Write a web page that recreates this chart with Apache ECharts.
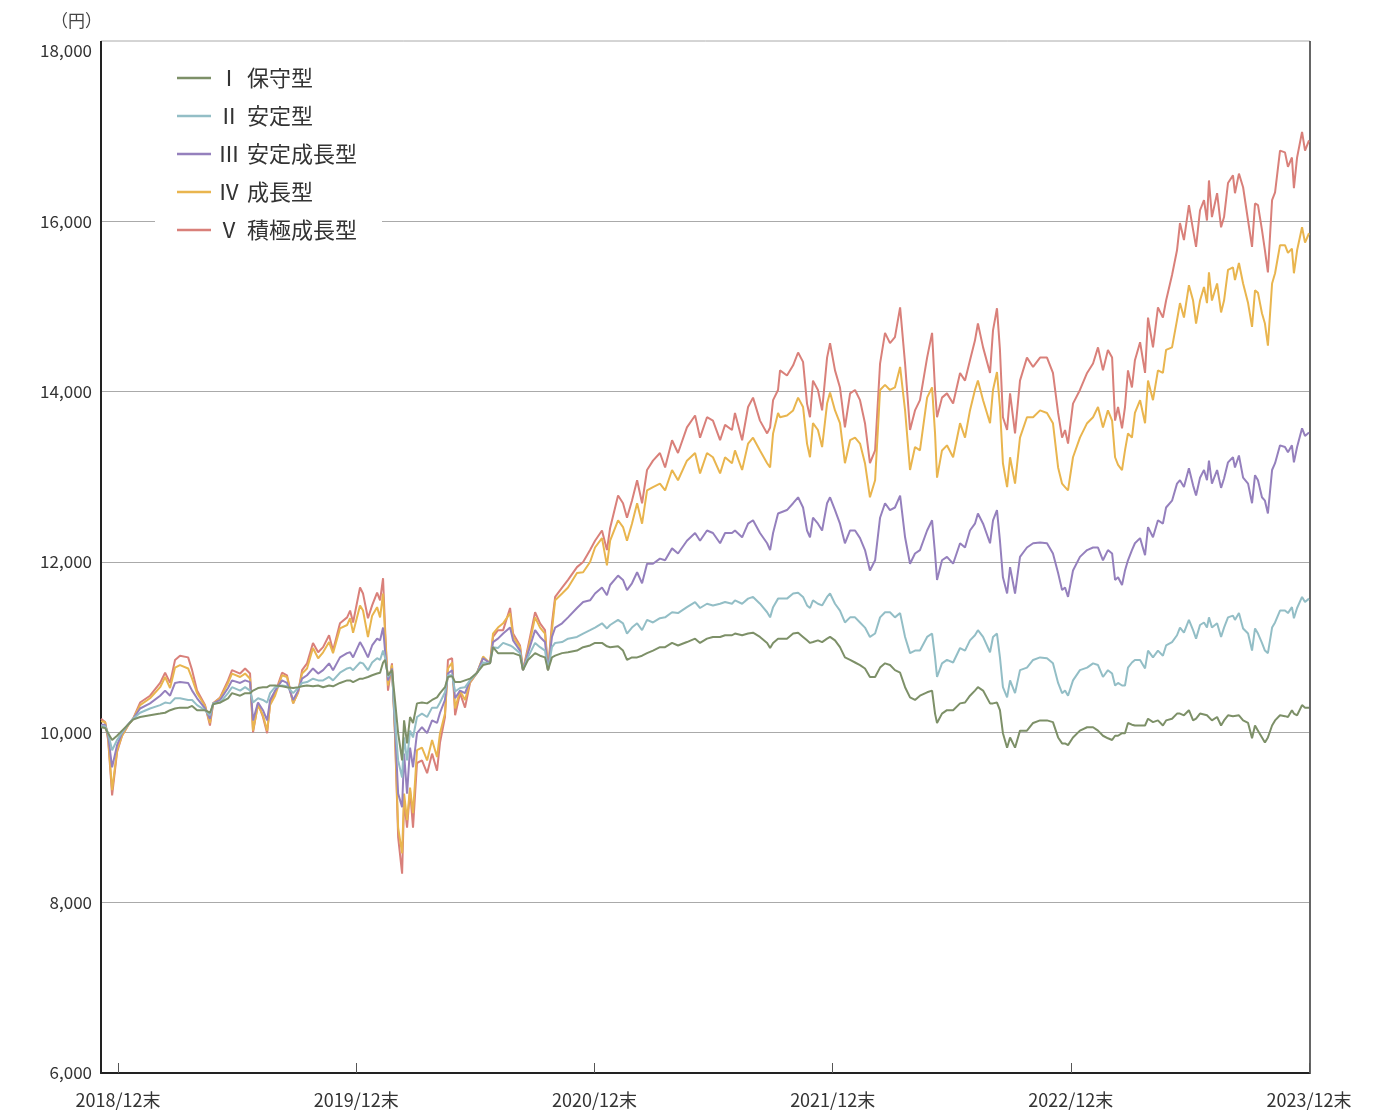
<!DOCTYPE html>
<html>
<head>
<meta charset="utf-8">
<script src="https://cdn.jsdelivr.net/npm/echarts@6/dist/echarts.min.js"></script>
<style>
  html, body { margin: 0; padding: 0; background: #fff; }
  #chart { width: 1389px; height: 1113px; }
</style>
</head>
<body>
<div id="chart"></div>
<script>
// x: months after 2018/12末
var months = [
  -0.86,-0.65,-0.50,-0.30,-0.05,0.20,0.50,0.76,1.11,1.61,
  2.12,2.37,2.62,2.87,3.12,3.53,3.73,3.98,4.38,4.63,
  4.79,5.14,5.54,5.74,6.15,6.40,6.65,6.80,7.05,7.30,
  7.51,7.66,7.91,8.26,8.51,8.82,9.07,9.27,9.52,9.82,
  10.08,10.33,10.63,10.83,11.18,11.54,11.69,11.84,12.19,12.34,
  12.59,12.80,13.05,13.20,13.35,13.45,13.60,13.80,13.95,14.11,
  14.31,14.41,14.56,14.71,14.86,15.06,15.31,15.57,15.82,16.07,
  16.22,16.47,16.62,16.83,16.98,17.23,17.48,17.73,18.09,18.39,
  18.74,18.89,19.14,19.40,19.75,19.90,20.25,20.40,20.65,21.01,
  21.26,21.51,21.66,21.86,22.02,22.37,22.67,23.12,23.43,23.78,
  24.03,24.38,24.63,24.79,25.19,25.44,25.64,25.89,26.15,26.40,
  26.65,26.95,27.30,27.56,27.91,28.21,28.66,29.07,29.32,29.67,
  29.97,30.33,30.58,30.93,31.08,31.44,31.74,31.99,32.34,32.70,
  32.85,33.00,33.25,33.35,33.70,34.01,34.26,34.51,34.71,34.86,
  35.01,35.26,35.47,35.72,35.87,36.12,36.37,36.62,36.88,37.13,
  37.38,37.63,37.88,38.14,38.39,38.64,38.89,39.14,39.40,39.65,
  39.90,40.15,40.40,40.76,41.01,41.16,41.26,41.51,41.76,42.07,
  42.42,42.67,42.92,43.17,43.32,43.58,43.93,44.08,44.28,44.43,
  44.58,44.79,44.94,45.19,45.44,45.79,46.10,46.45,46.80,47.10,
  47.36,47.56,47.71,47.86,48.11,48.46,48.82,49.12,49.37,49.62,
  49.87,50.08,50.23,50.38,50.58,50.73,50.88,51.08,51.23,51.49,
  51.74,51.89,52.14,52.39,52.64,52.80,53.10,53.35,53.50,53.70,
  53.95,54.16,54.31,54.51,54.71,54.86,54.96,55.11,55.37,55.57,
  55.72,55.92,56.17,56.27,56.47,56.68,56.93,57.13,57.28,57.43,
  57.63,57.78,57.93,58.14,58.29,58.54,58.79,58.94,59.14,59.24,
  59.40,59.65,59.80,60.00
];

// Ⅰ 保守型
var hoshu = [
  10060,10050,9990,9910,9960,10020,10090,10150,10180,10200,
  10220,10230,10260,10280,10290,10290,10310,10260,10260,10230,
  10330,10350,10400,10460,10430,10460,10460,10490,10520,10530,
  10530,10550,10550,10540,10530,10520,10530,10540,10550,10540,
  10550,10530,10550,10540,10580,10610,10610,10590,10630,10630,
  10650,10670,10690,10700,10820,10850,10670,10730,10380,9990,
  9670,10140,9870,10180,10110,10340,10350,10340,10380,10410,
  10460,10530,10650,10660,10590,10590,10610,10630,10700,10790,
  10810,11000,10930,10930,10930,10930,10900,10730,10850,10930,
  10900,10880,10730,10880,10900,10930,10940,10960,11000,11020,
  11050,11050,11010,11000,11010,10960,10850,10880,10880,10900,
  10930,10960,11000,11000,11050,11020,11060,11100,11050,11100,
  11120,11120,11140,11140,11160,11140,11160,11170,11120,11050,
  10990,11050,11100,11080,11100,11160,11170,11120,11080,11050,
  11060,11080,11060,11100,11120,11080,11000,10880,10850,10820,
  10790,10750,10650,10650,10760,10810,10790,10730,10700,10530,
  10410,10380,10430,10470,10490,10220,10110,10220,10260,10260,
  10340,10350,10430,10490,10530,10490,10340,10340,10350,10260,
  9990,9820,9940,9820,10020,10020,10110,10140,10140,10120,
  9940,9870,9870,9850,9940,10020,10060,10060,10020,9960,
  9930,9910,9960,9960,9990,9990,10110,10090,10080,10080,
  10080,10160,10120,10140,10080,10140,10160,10220,10220,10200,
  10260,10140,10160,10220,10210,10200,10190,10140,10180,10080,
  10140,10200,10190,10180,10200,10140,10110,9930,10080,10020,
  9940,9880,9940,10080,10140,10200,10190,10180,10260,10220,
  10200,10320,10290,10290
];

// Ⅱ 安定型
var antei = [
  10070,10070,9990,9790,9910,10000,10090,10160,10230,10280,
  10320,10350,10340,10400,10400,10380,10380,10320,10260,10200,
  10340,10350,10460,10530,10490,10530,10490,10350,10400,10380,
  10350,10460,10530,10550,10540,10460,10520,10580,10590,10630,
  10610,10610,10650,10610,10700,10750,10760,10730,10820,10810,
  10730,10820,10870,10850,10960,10880,10650,10730,10140,9670,
  9470,9940,9670,10020,9940,10180,10220,10180,10290,10290,
  10350,10470,10670,10670,10480,10520,10530,10610,10700,10820,
  10810,11000,10990,11050,11020,11000,10930,10730,10880,11050,
  11000,10960,10730,11000,11050,11060,11100,11120,11160,11200,
  11230,11280,11220,11260,11320,11280,11160,11230,11280,11200,
  11320,11290,11340,11350,11410,11400,11470,11530,11460,11510,
  11490,11510,11530,11510,11550,11510,11570,11590,11510,11410,
  11350,11470,11570,11570,11570,11630,11640,11590,11490,11460,
  11550,11510,11490,11590,11630,11510,11430,11290,11350,11350,
  11290,11230,11120,11160,11350,11410,11410,11350,11400,11120,
  10930,10960,10960,11120,11160,10880,10650,10810,10850,10820,
  10990,10960,11080,11140,11200,11120,10940,11120,11160,10880,
  10530,10410,10610,10460,10730,10760,10850,10880,10870,10810,
  10580,10460,10490,10430,10610,10730,10760,10810,10790,10650,
  10730,10690,10550,10580,10550,10550,10760,10820,10850,10850,
  10750,10960,10880,10960,10900,11020,11060,11140,11230,11170,
  11320,11200,11100,11260,11290,11230,11350,11230,11280,11120,
  11230,11350,11370,11320,11400,11220,11160,10960,11220,11160,
  11050,10960,10930,11230,11290,11430,11430,11400,11470,11340,
  11460,11590,11530,11570
];

// Ⅲ 安定成長型
var anteiSeicho = [
  10090,10090,9960,9590,9850,9990,10090,10160,10280,10340,
  10430,10490,10430,10580,10590,10580,10490,10400,10280,10160,
  10340,10380,10520,10610,10580,10610,10590,10140,10350,10260,
  10140,10380,10490,10610,10580,10380,10490,10630,10670,10750,
  10690,10730,10810,10730,10880,10930,10940,10880,11060,11000,
  10880,11020,11100,11080,11230,10960,10610,10750,10060,9280,
  9120,9750,9280,9820,9590,9990,10060,9990,10140,10110,
  10230,10380,10690,10730,10400,10490,10460,10610,10700,10870,
  10810,11060,11100,11160,11230,11080,10960,10730,10930,11200,
  11120,11060,10730,11120,11230,11280,11350,11460,11530,11550,
  11630,11700,11610,11730,11840,11790,11670,11750,11880,11750,
  11980,11980,12040,12020,12160,12100,12250,12340,12250,12370,
  12340,12220,12340,12340,12370,12290,12450,12490,12340,12220,
  12140,12340,12570,12580,12610,12690,12760,12640,12370,12290,
  12520,12450,12370,12690,12760,12610,12450,12220,12370,12370,
  12280,12140,11900,12020,12520,12690,12610,12640,12780,12290,
  11980,12100,12140,12370,12490,12100,11790,12020,12060,11980,
  12220,12170,12370,12450,12570,12450,12220,12490,12610,12250,
  11820,11630,11940,11630,12060,12170,12220,12230,12220,12100,
  11870,11670,11700,11590,11900,12060,12140,12170,12170,12020,
  12140,12100,11790,11820,11730,11900,12020,12140,12220,12280,
  12080,12410,12290,12490,12450,12640,12720,12920,12960,12880,
  13100,12900,12780,12990,13080,12960,13190,12920,13080,12870,
  12980,13170,13230,13110,13250,12990,12920,12690,13020,12960,
  12760,12720,12570,13080,13160,13370,13350,13290,13370,13170,
  13350,13570,13480,13520
];

// Ⅳ 成長型
var seicho = [
  10130,10120,9930,9320,9790,9960,10080,10160,10320,10400,
  10530,10650,10520,10760,10790,10750,10630,10460,10310,10110,
  10340,10400,10580,10690,10650,10690,10630,10020,10320,10200,
  10020,10320,10430,10670,10650,10340,10470,10690,10750,10990,
  10870,10940,11060,10930,11220,11260,11340,11170,11490,11430,
  11120,11370,11470,11350,11630,11160,10550,10790,9990,8880,
  8580,9280,8970,9350,9050,9790,9820,9670,9910,9710,
  9990,10220,10750,10820,10280,10490,10380,10590,10700,10890,
  10810,11160,11230,11280,11400,11120,11000,10730,10960,11350,
  11230,11160,10730,11200,11550,11630,11700,11870,11880,12000,
  12170,12280,11960,12250,12490,12410,12250,12450,12690,12450,
  12840,12880,12920,12840,13080,12960,13190,13280,13040,13280,
  13230,13040,13230,13160,13310,13080,13390,13460,13310,13160,
  13110,13510,13750,13700,13720,13780,13930,13820,13390,13230,
  13630,13550,13350,13860,13990,13780,13630,13160,13430,13460,
  13390,13160,12760,12960,14020,14080,14020,14050,14290,13780,
  13080,13350,13310,13930,14050,13510,12990,13310,13370,13230,
  13630,13460,13780,14020,14130,13900,13630,14020,14230,13820,
  13160,12880,13230,12920,13460,13700,13700,13780,13750,13630,
  13110,12920,12880,12840,13230,13460,13630,13700,13820,13580,
  13780,13660,13230,13140,13080,13310,13510,13460,13750,13900,
  13630,14130,13900,14250,14220,14490,14520,14840,15040,14870,
  15250,15070,14800,15070,15230,15040,15400,15070,15270,14930,
  15070,15430,15460,15310,15510,15270,15040,14760,15190,15160,
  14920,14800,14540,15270,15390,15720,15720,15630,15680,15390,
  15660,15930,15750,15860
];

// Ⅴ 積極成長型
var sekkyoku = [
  10160,10120,9910,9260,9770,9960,10080,10160,10350,10430,
  10580,10700,10580,10850,10900,10880,10730,10490,10320,10080,
  10340,10410,10610,10730,10690,10750,10690,10000,10340,10180,
  9990,10340,10460,10700,10670,10340,10470,10730,10810,11050,
  10940,11000,11140,10960,11280,11350,11430,11290,11700,11630,
  11340,11490,11640,11550,11810,11230,10490,10810,9990,8770,
  8340,9200,8880,9320,8880,9640,9670,9520,9750,9550,
  9880,10180,10850,10870,10200,10460,10290,10580,10700,10880,
  10810,11120,11200,11200,11460,11160,11020,10730,11000,11410,
  11280,11200,10730,11280,11590,11700,11790,11940,12000,12140,
  12250,12370,12140,12400,12780,12690,12520,12720,12960,12690,
  13080,13190,13280,13110,13430,13280,13580,13720,13460,13700,
  13660,13430,13610,13550,13750,13430,13820,13930,13660,13510,
  13580,13900,14020,14250,14190,14310,14460,14350,13860,13700,
  14130,14020,13780,14400,14570,14250,14050,13580,13980,14020,
  13900,13630,13160,13310,14330,14690,14570,14640,14990,14330,
  13550,13780,13900,14400,14690,14020,13700,13930,13980,13860,
  14220,14130,14370,14600,14800,14520,14220,14720,14980,14490,
  13700,13550,13980,13510,14130,14400,14290,14400,14400,14220,
  13750,13460,13550,13390,13860,14020,14220,14330,14520,14250,
  14490,14400,13660,13820,13570,13820,14250,14050,14370,14580,
  14220,14870,14520,14990,14870,15070,15370,15660,15980,15780,
  16190,15900,15700,16130,16250,16010,16480,16050,16330,15930,
  16050,16450,16540,16330,16560,16400,16010,15700,16210,16190,
  15900,15660,15400,16250,16340,16830,16810,16640,16750,16390,
  16750,17050,16830,16950
];

var romans = ['Ⅰ', 'Ⅱ', 'Ⅲ', 'Ⅳ', 'Ⅴ'];
var typeNames = ['保守型', '安定型', '安定成長型', '成長型', '積極成長型'];
var colors = ['#7d9068', '#93bec6', '#9580bd', '#e9b54e', '#d9807a'];
var values = [hoshu, antei, anteiSeicho, seicho, sekkyoku];

var tickMonths = [0, 12, 24, 36, 48, 60];
var tickLabels = ['2018/12末', '2019/12末', '2020/12末', '2021/12末', '2022/12末', '2023/12末'];

var FONT = '"Noto Sans CJK JP", "Noto Sans", sans-serif';

var names = romans.map(function (r, i) { return r + ' ' + typeNames[i]; });

// draw Ⅴ first so that Ⅰ ends up on top
var series = [];
for (var i = values.length - 1; i >= 0; i--) {
  series.push({
    name: names[i],
    type: 'line',
    data: months.map(function (m, k) { return [m, values[i][k]]; }),
    showSymbol: false,
    symbol: 'none',
    lineStyle: { width: 2, color: colors[i] },
    itemStyle: { color: colors[i] },
    emphasis: { disabled: true }
  });
}

var chart = echarts.init(document.getElementById('chart'), null, { renderer: 'canvas' });

chart.setOption({
  animation: false,
  backgroundColor: '#fff',
  textStyle: { fontFamily: FONT },
  grid: { left: 101, right: 80, top: 51, bottom: 40 },
  legend: {
    data: names,
    orient: 'vertical',
    left: 155,
    top: 56,
    z: 10,
    padding: [10, 25, 10, 22],
    backgroundColor: '#fff',
    icon: 'rect',
    itemWidth: 34,
    itemHeight: 2.5,
    itemGap: 14,
    selectedMode: false,
    textStyle: {
      fontFamily: FONT,
      fontSize: 22,
      lineHeight: 24,
      color: '#333',
      rich: {
        r: { width: 26, align: 'center', fontSize: 22, color: '#333', fontFamily: FONT },
        n: { fontSize: 22, color: '#333', padding: [0, 0, 0, 5], fontFamily: FONT }
      }
    },
    formatter: function (name) {
      var k = names.indexOf(name);
      return '{r|' + romans[k] + '}{n|' + typeNames[k] + '}';
    }
  },
  xAxis: {
    type: 'value',
    min: -0.86,
    max: 60,
    axisLine: { onZero: false, lineStyle: { color: '#222', width: 2 } },
    axisTick: {
      inside: true, length: 10, customValues: tickMonths,
      lineStyle: { color: '#555', width: 1 }
    },
    axisLabel: {
      customValues: tickMonths,
      fontSize: 18,
      color: '#333',
      margin: 18,
      fontFamily: FONT,
      formatter: function (v) {
        var k = tickMonths.indexOf(v);
        return k >= 0 ? tickLabels[k] : '';
      }
    },
    splitLine: { show: false }
  },
  yAxis: {
    type: 'value',
    min: 6000,
    max: 18000,
    interval: 2000,
    axisLine: { show: true, onZero: false, lineStyle: { color: '#222', width: 2 } },
    axisTick: { show: false },
    axisLabel: {
      fontSize: 17,
      color: '#333',
      margin: 9,
      fontFamily: FONT,
      formatter: function (v) { return v.toLocaleString('en-US'); }
    },
    splitLine: {
      lineStyle: {
        color: ['#aaa', '#aaa', '#aaa', '#aaa', '#aaa', '#aaa', 'rgba(0,0,0,0)'],
        width: 1
      }
    }
  },
  graphic: [
    { type: 'line', shape: { x1: 101, y1: 41, x2: 1310, y2: 41 }, style: { stroke: '#aaa', lineWidth: 1 }, silent: true },
    { type: 'line', shape: { x1: 1310, y1: 41, x2: 1310, y2: 1074 }, style: { stroke: '#333', lineWidth: 1.5 }, silent: true },
    { type: 'line', shape: { x1: 101, y1: 41, x2: 101, y2: 52 }, style: { stroke: '#222', lineWidth: 2 }, silent: true },
    {
      type: 'text', x: 102, y: 21, silent: true,
      style: { text: '（円）', font: '17px "Noto Sans CJK JP"', fill: '#444', align: 'right', verticalAlign: 'middle' }
    }
  ],
  series: series
});
</script>
</body>
</html>
